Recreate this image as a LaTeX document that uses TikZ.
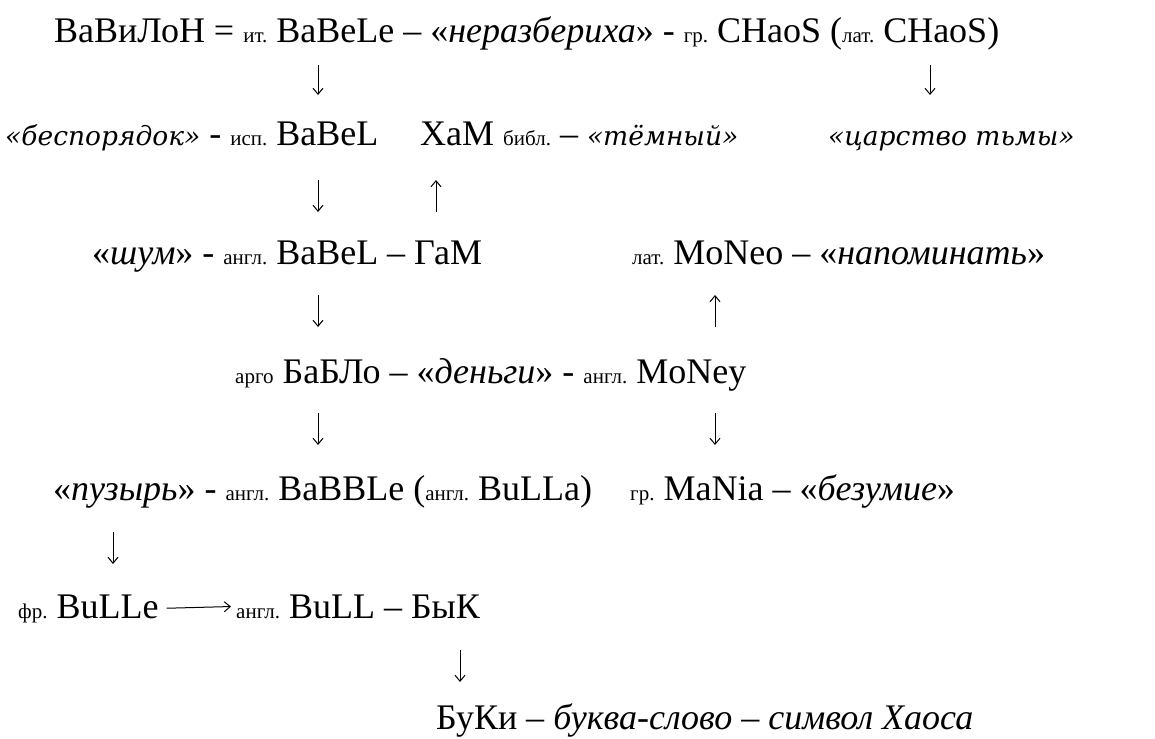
\documentclass[tikz,border=0pt]{standalone}
\usepackage{fontspec}
\setmainfont{Liberation Serif}
\newfontfamily\widefont{DejaVu Serif}
\usetikzlibrary{arrows.meta}
\frenchspacing

\newcommand{\lb}[1]{{\fontsize{21}{22}\selectfont #1}}
\newcommand{\qq}[1]{«\textit{#1}»}
\newcommand{\qw}[1]{{\widefont\fontsize{26.5}{30}\selectfont\itshape «#1»}}

\tikzset{
  row/.style={anchor=base west, inner sep=0pt, font=\fontsize{36}{40}\selectfont},
  arr/.style={-{Straight Barb[length=6pt,width=10pt]}, line width=1pt},
}

\begin{document}
\begin{tikzpicture}[x=1pt,y=-1pt]
\useasboundingbox (0,0) rectangle (1155,738);

% rows of words
\node[row] (vavilon) at (54,43) {ВаВиЛоН = \lb{ит.} BaBeLe – \qq{неразбериха} - \lb{гр.} CHaoS (\lb{лат.} CHaoS)};
\node[row] (besp) at (5,146) {\qw{беспорядок} - \lb{исп.} BaBeL};
\node[row] (ham) at (420,146) {ХаМ \lb{библ.} – \qw{тёмный}};
\node[row] (tsar) at (828,146) {\qw{царство тьмы}};
\node[row] (shum) at (92,264) {\qq{шум} - \lb{англ.} BaBeL – ГаМ};
\node[row] (moneo) at (632,264) {\lb{лат.} MoNeo – \qq{напоминать}};
\node[row] (bablo) at (235,383) {\lb{арго} БаБЛо – \qq{деньги} - \lb{англ.} MoNey};
\node[row] (puz) at (53,500) {\qq{пузырь} - \lb{англ.} BaBBLe (\lb{англ.} BuLLa)};
\node[row] (mania) at (630,500) {\lb{гр.} MaNia – \qq{безумие}};
\node[row] (bulle) at (18,618) {\lb{фр.} BuLLe};
\node[row] (bull) at (236,618) {\lb{англ.} BuLL – БыК};
\node[row] (buki) at (436,729) {БуКи – \textit{буква-слово – символ Хаоса}};

% arrow ends
\coordinate (a1t) at (318,65);  \coordinate (a1b) at (318,95);
\coordinate (a2t) at (930,65);  \coordinate (a2b) at (930,95);
\coordinate (a3t) at (318,180); \coordinate (a3b) at (318,212);
\coordinate (a4t) at (436,180); \coordinate (a4b) at (436,212);
\coordinate (a5t) at (318,295); \coordinate (a5b) at (318,327);
\coordinate (a6t) at (715,295); \coordinate (a6b) at (715,327);
\coordinate (a7t) at (318,413); \coordinate (a7b) at (318,445);
\coordinate (a8t) at (715,413); \coordinate (a8b) at (715,445);
\coordinate (a9t) at (113,532); \coordinate (a9b) at (113,564);
\coordinate (a10t) at (460,650); \coordinate (a10b) at (460,682);

\draw[arr] (a1t) -- (a1b);
\draw[arr] (a2t) -- (a2b);
\draw[arr] (a3t) -- (a3b);
\draw[arr] (a4b) -- (a4t);
\draw[arr] (a5t) -- (a5b);
\draw[arr] (a6b) -- (a6t);
\draw[arr] (a7t) -- (a7b);
\draw[arr] (a8t) -- (a8b);
\draw[arr] (a9t) -- (a9b);
\draw[arr] (a10t) -- (a10b);
\draw[arr, shorten <=8pt, shorten >=5pt] (bulle.east) -- (bull.west);
\end{tikzpicture}
\end{document}
